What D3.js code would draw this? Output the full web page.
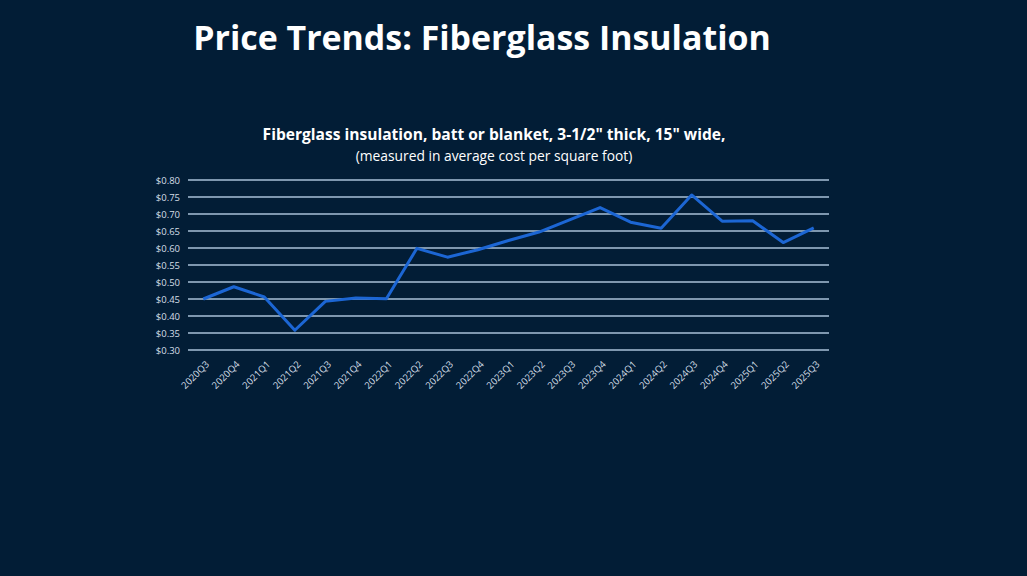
<!DOCTYPE html>
<html>
<head>
<meta charset="utf-8">
<script src="https://cdn.jsdelivr.net/npm/d3@7"></script>
<style>
  html, body { margin: 0; padding: 0; background: #021d36; }
  svg { display: block; }
</style>
</head>
<body>
<div id="chart"></div>
<script>
// quarters and average cost per square foot
const quarters = [
  "2020Q3", "2020Q4", "2021Q1", "2021Q2", "2021Q3", "2021Q4", "2022Q1",
  "2022Q2", "2022Q3", "2022Q4", "2023Q1", "2023Q2", "2023Q3", "2023Q4",
  "2024Q1", "2024Q2", "2024Q3", "2024Q4", "2025Q1", "2025Q2", "2025Q3"
];
const prices = [
  0.450, 0.486, 0.456, 0.358, 0.443, 0.453, 0.451,
  0.599, 0.573, 0.595, 0.622, 0.647, 0.683, 0.719,
  0.676, 0.658, 0.756, 0.679, 0.680, 0.616, 0.659
];
const yTicks = [0.30, 0.35, 0.40, 0.45, 0.50, 0.55, 0.60, 0.65, 0.70, 0.75, 0.80];

const mainTitle = "Price Trends: Fiberglass Insulation";
const chartTitle = "Fiberglass insulation, batt or blanket, 3-1/2\" thick, 15\" wide,";
const chartSubtitle = "(measured in average cost per square foot)";

const W = 1027, H = 576;
const margin = {top: 180, right: 198, bottom: 226, left: 188};
const width = W - margin.left - margin.right;
const height = H - margin.top - margin.bottom;

const svg = d3.select("#chart").append("svg")
    .attr("width", W).attr("height", H);

svg.append("rect").attr("width", W).attr("height", H).attr("fill", "#021d36");

// fit a text element to a target width by adjusting font size
function fitText(sel, target) {
  const len = sel.node().getComputedTextLength();
  const fs = parseFloat(sel.attr("font-size"));
  sel.attr("font-size", fs * target / len);
}

const font = "'Open Sans', 'Noto Sans', sans-serif";

const t1 = svg.append("text")
    .attr("x", 482).attr("y", 50)
    .attr("text-anchor", "middle")
    .attr("font-family", font).attr("font-weight", "bold")
    .attr("font-size", 40).attr("fill", "#ffffff")
    .text(mainTitle);
fitText(t1, 578);

const t2 = svg.append("text")
    .attr("x", 494).attr("y", 140)
    .attr("text-anchor", "middle")
    .attr("font-family", font).attr("font-weight", "bold")
    .attr("font-size", 15).attr("fill", "#ffffff")
    .text(chartTitle);
fitText(t2, 463);

const t3 = svg.append("text")
    .attr("x", 494).attr("y", 161)
    .attr("text-anchor", "middle")
    .attr("font-family", font)
    .attr("font-size", 12).attr("fill", "#ffffff")
    .text(chartSubtitle);
fitText(t3, 277);

const g = svg.append("g")
    .attr("transform", `translate(${margin.left},${margin.top})`);

const x = d3.scalePoint()
    .domain(quarters)
    .range([0, width])
    .padding(0.5);

const y = d3.scaleLinear()
    .domain([0.30, 0.80])
    .range([height, 0]);

// gridlines
g.selectAll(".grid")
    .data(yTicks)
    .enter().append("line")
      .attr("x1", 0).attr("x2", width)
      .attr("y1", d => y(d)).attr("y2", d => y(d))
      .attr("stroke", "#a9c0d8").attr("stroke-width", 1.3);

// y axis labels
const yAxis = g.append("g")
    .call(d3.axisLeft(y).tickValues(yTicks).tickSize(0).tickPadding(8)
      .tickFormat(d => "$" + d.toFixed(2)));
yAxis.select(".domain").remove();
yAxis.selectAll("text")
    .attr("fill", "#d4dde6")
    .attr("font-family", font)
    .attr("font-size", 9.5);

// x axis labels
const xAxis = g.append("g")
    .attr("transform", `translate(0,${height})`)
    .call(d3.axisBottom(x).tickSize(0).tickPadding(0));
xAxis.select(".domain").remove();
xAxis.selectAll("text")
    .attr("fill", "#d4dde6")
    .attr("font-family", font)
    .attr("font-size", 9.5)
    .attr("text-anchor", "end")
    .attr("dy", 0)
    .attr("transform", "translate(6,15) rotate(-45)");

// price line
const line = d3.line()
    .x((d, i) => x(quarters[i]))
    .y(d => y(d));

g.append("path")
    .datum(prices)
    .attr("fill", "none")
    .attr("stroke", "#1c66d4")
    .attr("stroke-width", 3)
    .attr("stroke-linejoin", "round")
    .attr("d", line);
</script>
</body>
</html>
